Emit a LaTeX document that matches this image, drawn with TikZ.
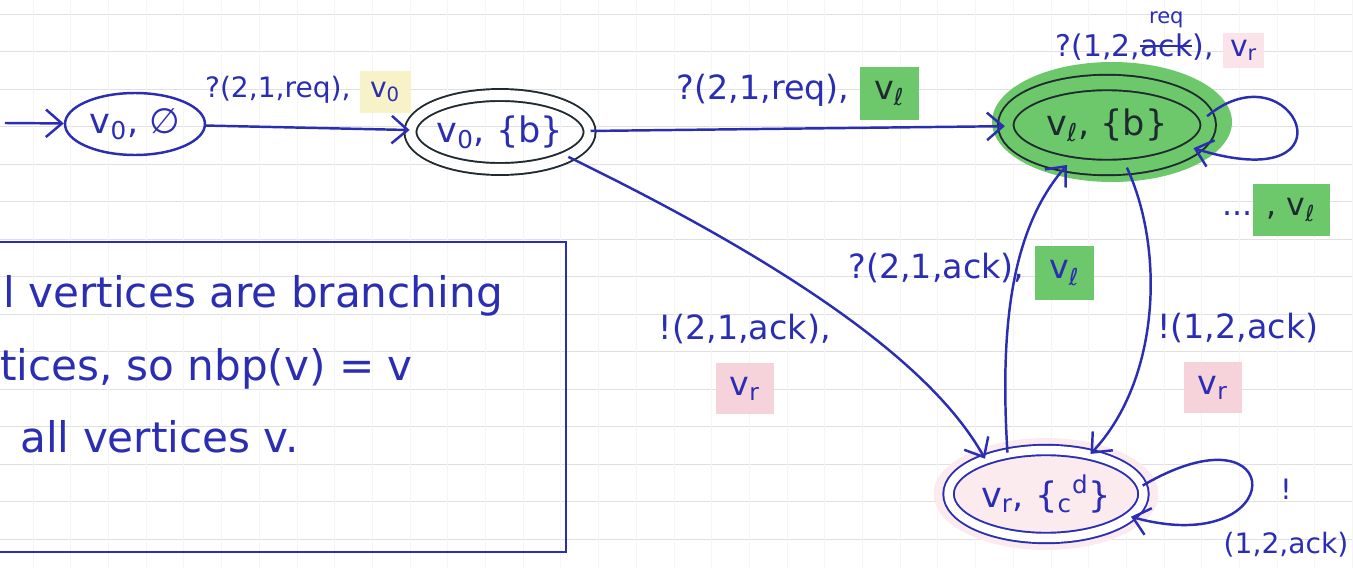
\documentclass[tikz,border=0pt]{standalone}
\usepackage{fontspec}
\setmainfont{DejaVu Sans}
\usetikzlibrary{arrows.meta,positioning,shapes.geometric,calc}
\definecolor{penBlue}{HTML}{2B2EB2}
\definecolor{penDark}{HTML}{1E2A30}
\definecolor{hlGreen}{HTML}{6CC86A}
\definecolor{hlPink}{HTML}{F6D3DB}
\definecolor{hlYellow}{HTML}{F8F2C8}
\definecolor{gridGray}{HTML}{D8D8D8}
\newcommand{\hlg}[1]{{\setlength{\fboxsep}{8pt}\colorbox{hlGreen}{#1}}}
\newcommand{\hlp}[1]{{\setlength{\fboxsep}{8pt}\colorbox{hlPink}{#1}}}
\newcommand{\hly}[1]{{\setlength{\fboxsep}{6pt}\colorbox{hlYellow}{#1}}}
\newcommand{\crossed}[1]{\setbox0\hbox{#1}\rlap{\rule[0.3em]{\wd0}{1.4pt}}\box0}
\tikzset{
  state/.style={ellipse,draw=penBlue,line width=1.4pt,text=penBlue,
    inner sep=0pt,font=\fontsize{20}{24}\selectfont},
  accstate/.style={state,draw=penDark,line width=1.1pt,
    double=white,double distance=0.2cm},
  arr/.style={-{Straight Barb[length=3.2mm,width=5.5mm]},line width=1.4pt,color=penBlue},
  lbl/.style={font=\fontsize{16}{19}\selectfont,text=penBlue,align=center,inner sep=2pt},
  lblbig/.style={lbl,font=\fontsize{19}{22}\selectfont},
  notebox/.style={rectangle,draw=penBlue,line width=1.4pt,anchor=north west},
  notetext/.style={font=\fontsize{24}{28}\selectfont,text=penBlue,
    anchor=base west,inner sep=0pt},
  gridh/.style={draw=gridGray!80,line width=0.5pt},
  gridv/.style={draw=gridGray!25,line width=0.4pt},
}
\begin{document}
\begin{tikzpicture}[x=0.02cm,y=-0.02cm]
  \useasboundingbox (0,0) rectangle (1353,568);
  \clip (0,0) rectangle (1353,568);
  % paper grid
  \foreach \gy in {0,...,14}
    \draw[gridh] (0,14+37.5*\gy) -- (1353,14+37.5*\gy);
  \foreach \gx in {0,...,35}
    \draw[gridv] (33+37.7*\gx,0) -- (33+37.7*\gx,568);
  % marker
  \fill[hlGreen] (1112,122) ellipse (2.4cm and 1.2cm);
  \fill[hlPink!45] (1046,494) ellipse (2.25cm and 1.12cm);

  \coordinate (start) at (5,123);
  \node[state,minimum width=2.8cm,minimum height=1.24cm] (s0) at (135,124)
    {v\textsubscript{0}, ∅};
  \node[accstate,minimum width=3.13cm,minimum height=1.48cm,text=penBlue] (s1)
    at (500,132) {v\textsubscript{0}, \{b\}};
  \node[accstate,double=hlGreen,double distance=0.27cm,
    minimum width=4.05cm,minimum height=1.7cm,text=penDark] (s2)
    at (1107,125) {v\textsubscript{ℓ}, \{b\}};
  \node[accstate,draw=penBlue,double distance=0.17cm,
    minimum width=3.9cm,minimum height=1.76cm,text=penBlue] (s3)
    at (1046,494) {v\textsubscript{r}, \{\textsubscript{c}\textsuperscript{d}\}};

  \node[notebox,minimum width=11.7cm,minimum height=6.2cm] (note) at (-20,241) {};
  \node[notetext] (line1) at (3,307) {l vertices are branching};
  \node[notetext] (line2) at (0,380) {tices, so nbp(v) = v};
  \node[notetext] (line3) at (20,452) {all vertices v.};

  \draw[arr] (start) -- (s0);
  \draw[arr] (s0) -- node[lbl,above=6pt]
    {?(2,1,req), \hly{v\textsubscript{0}}} (s1);
  \draw[arr] (s1) -- node[lblbig,above=2pt]
    {?(2,1,req), \hlg{\color{penDark}v\textsubscript{ℓ}}} (s2);
  \draw[arr] (s1.-20) .. controls (780,260) and (930,360) ..
    node[lblbig,below left,pos=.5] {!(2,1,ack),\\[10pt]\hlp{v\textsubscript{r}}} (s3.150);
  \draw[arr] (s3.133) .. controls (1000,330) and (1010,230) ..
    node[lblbig,pos=.55,xshift=-0.9cm] {?(2,1,ack), \hlg{v\textsubscript{ℓ}}} (s2.-135);
  \draw[arr] (s2.-65) .. controls (1165,250) and (1160,380) ..
    node[lblbig,right,pos=.66,xshift=0.25cm] {!(1,2,ack)\\[10pt]\hlp{v\textsubscript{r}}\hspace*{1cm}} (s3.42);
  \draw[arr] (s2.5) .. controls +(87,-72) and +(168,52) .. (s2.-15);
  \draw[arr] (s3.5) .. controls +(147,-86) and +(160,44) .. (s3.-15);

  % loop labels
  \node[lbl,font=\fontsize{17}{20}\selectfont] (loopA) at (1160,40)
    {?(1,2,\shortstack{\fontsize{12}{13}\selectfont req\\\crossed{ack}}), {\setlength{\fboxsep}{4pt}\colorbox{hlPink!60}{v\textsubscript{r}}}};
  \node[lbl,font=\fontsize{18}{21}\selectfont] (loopB) at (1276,210)
    {...\hlg{\color{penDark}, v\textsubscript{ℓ}}};
  \node[lbl] (loopC) at (1286,518) {!\\[12pt](1,2,ack)};
\end{tikzpicture}
\end{document}
